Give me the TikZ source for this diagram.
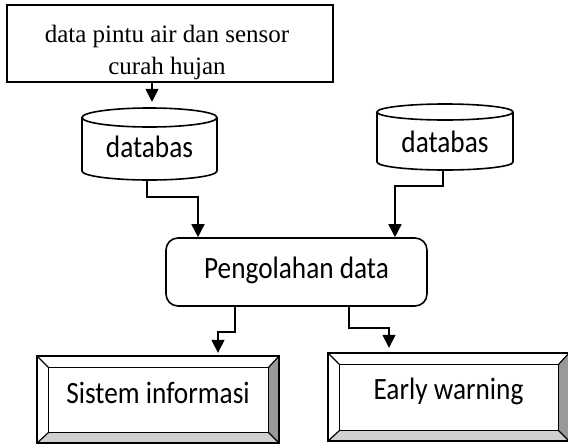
\documentclass[tikz,border=0pt]{standalone}
\usepackage{fontspec}
\setmainfont{Liberation Serif}
\newfontfamily\labelsans[FakeStretch=0.88]{Carlito}
\usetikzlibrary{arrows.meta,calc}
\definecolor{bevdark}{RGB}{153,153,153}
\definecolor{bevlight}{RGB}{208,208,208}
\tikzset{
  outline/.style={line width=1.6pt},
  bevline/.style={line width=1.2pt},
  conn/.style={line width=1.6pt, -{Triangle[length=13pt,width=13pt]}},
  sanslbl/.style={font=\labelsans\fontsize{31pt}{36pt}\selectfont},
  cylnode/.style={sanslbl, inner sep=0pt, text height=21pt, text depth=0pt},
  bevnode/.style={sanslbl, inner sep=0pt}
}
\newcommand\drawbevel[1]{%
  \path ($(#1.north west)+(12,12)$) coordinate (#1-a)
        ($(#1.north east)+(-11,12)$) coordinate (#1-b)
        ($(#1.south east)+(-11,-11)$) coordinate (#1-c)
        ($(#1.south west)+(12,-11)$) coordinate (#1-d);
  \fill[bevdark] (#1.north east) -- (#1.south east) -- (#1-c) -- (#1-b) -- cycle;
  \fill[bevlight] (#1.south west) -- (#1.south east) -- (#1-c) -- (#1-d) -- cycle;
  \draw[bevline] (#1-a) rectangle (#1-c);
  \draw[bevline] (#1.north west) -- (#1-a) (#1.north east) -- (#1-b)
                 (#1.south east) -- (#1-c) (#1.south west) -- (#1-d);
  \draw[outline] (#1.north west) rectangle (#1.south east);
}
\begin{document}
\begin{tikzpicture}[x=1pt,y=-1pt]
\useasboundingbox (0,0) rectangle (568,445);
\fill[white] (0,0) rectangle (568,445);

% source box
\node[draw, outline, minimum width=326pt, minimum height=77pt, inner sep=0pt] (src) at (170,43.5) {};
\node[align=center, font=\fontsize{25pt}{32pt}\selectfont, inner sep=0pt] (srctext) at (167,52)
  {data pintu air dan sensor\\curah hujan};

% left cylinder
\draw[outline] (217,117.5) -- (217,171)
  .. controls (217,175.97) and (186.78,180) .. (149.5,180)
  .. controls (112.22,180) and (82,175.97) .. (82,171) -- (82,117.5);
\draw[outline] (149.5,117.5) ellipse[x radius=67.5pt, y radius=9.5pt];
\node[cylnode, minimum width=135pt, minimum height=72pt] (db1) at (149.5,144) {\raisebox{-2.5pt}{databas}};

% right cylinder
\draw[outline] (513,112) -- (513,162)
  .. controls (513,166.42) and (482.56,170) .. (445,170)
  .. controls (407.44,170) and (377,166.42) .. (377,162) -- (377,112);
\draw[outline] (445,112) ellipse[x radius=68pt, y radius=8pt];
\node[cylnode, minimum width=136pt, minimum height=66pt] (db2) at (445,137) {\raisebox{-4.5pt}{databas}};

% processing
\node[draw, outline, rounded corners=12pt, minimum width=261pt, minimum height=68pt,
      sanslbl, inner sep=0pt, text height=21pt, text depth=9pt] (proc) at (296.5,272) {Pengolahan data};

% output boxes
\node[bevnode, minimum width=242pt, minimum height=87pt, text height=21pt, text depth=14pt] (sys) at (158,399.5) {Sistem informasi};
\drawbevel{sys}
\node[bevnode, minimum width=241pt, minimum height=88pt, text height=21pt, text depth=17pt] (ew) at (448.5,397) {Early warning};
\drawbevel{ew}

% connectors
\draw[conn] ([xshift=-18pt]src.south) -- ([xshift=2.5pt,yshift=6pt]db1.north);
\draw[conn] ([xshift=-2.5pt]db1.south) -- ++(0,17) -| ([xshift=-98.5pt]proc.north);
\draw[conn] ([xshift=-2pt]db2.south) -- ++(0,16) -| ([xshift=98.5pt]proc.north);
\draw[conn] ([xshift=-61.5pt]proc.south) -- ++(0,25) -| ([xshift=60pt,yshift=3pt]sys.north);
\draw[conn] ([xshift=52.5pt]proc.south) -- ++(0,21) -| ([xshift=-59.5pt,yshift=5pt]ew.north);
\end{tikzpicture}
\end{document}
